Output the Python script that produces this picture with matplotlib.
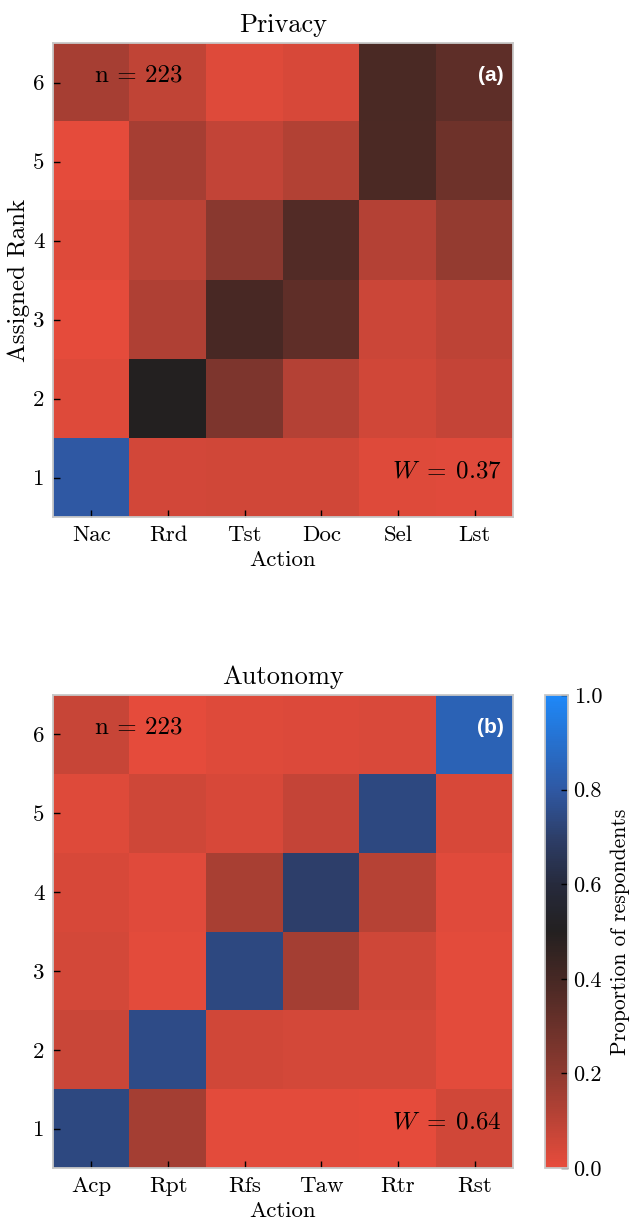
import numpy as np
import matplotlib
matplotlib.use("Agg")
import matplotlib.pyplot as plt
from matplotlib.colors import LinearSegmentedColormap

plt.rcParams['font.family'] = 'serif'
plt.rcParams['font.serif'] = ['cmr10']
plt.rcParams['mathtext.fontset'] = 'cm'
plt.rcParams['axes.unicode_minus'] = False
plt.rcParams['axes.formatter.use_mathtext'] = True

# ---- data ----
ranks = [1, 2, 3, 4, 5, 6]
privacy_actions = ["Nac", "Rrd", "Tst", "Doc", "Sel", "Lst"]
autonomy_actions = ["Acp", "Rpt", "Rfs", "Taw", "Rtr", "Rst"]

# rows: rank 1 .. rank 6 ; columns: actions
privacy_rank1 = [0.80, 0.047, 0.052, 0.052, 0.020, 0.016]
privacy_rank2 = [0.020, 0.50, 0.247, 0.115, 0.052, 0.079]
privacy_rank3 = [0.004, 0.128, 0.394, 0.331, 0.065, 0.097]
privacy_rank4 = [0.022, 0.101, 0.214, 0.367, 0.115, 0.187]
privacy_rank5 = [0.004, 0.146, 0.085, 0.119, 0.383, 0.286]
privacy_rank6 = [0.146, 0.088, 0.020, 0.036, 0.389, 0.333]

autonomy_rank1 = [0.74, 0.15, 0.011, 0.011, 0.007, 0.052]
autonomy_rank2 = [0.070, 0.75, 0.052, 0.043, 0.043, 0.011]
autonomy_rank3 = [0.043, 0.011, 0.74, 0.15, 0.056, 0.011]
autonomy_rank4 = [0.036, 0.018, 0.142, 0.70, 0.11, 0.018]
autonomy_rank5 = [0.022, 0.056, 0.038, 0.079, 0.74, 0.038]
autonomy_rank6 = [0.074, 0.004, 0.020, 0.025, 0.034, 0.84]

n_resp = 223
w_privacy = 0.37
w_autonomy = 0.64

privacy = np.array([privacy_rank1, privacy_rank2, privacy_rank3,
                    privacy_rank4, privacy_rank5, privacy_rank6])
autonomy = np.array([autonomy_rank1, autonomy_rank2, autonomy_rank3,
                     autonomy_rank4, autonomy_rank5, autonomy_rank6])

cmap = LinearSegmentedColormap.from_list(
    "rbb",
    [(0.0, "#e74c3c"), (0.2, "#8e3a30"), (0.4, "#462824"), (0.5, "#232020"),
     (0.6, "#262a3c"), (0.7, "#2d3e69"), (0.8, "#2f58a3"), (1.0, "#1e88f8")])

fig = plt.figure(figsize=(6.3, 12.22), dpi=100)
ax1 = fig.add_axes([53/630, 1-517/1222, 460/630, 474/1222])
ax2 = fig.add_axes([53/630, 1-1168/1222, 460/630, 473/1222])
cax = fig.add_axes([545/630, 1-1168/1222, 23/630, 473/1222])

spine_col = "#c8c8c8"

def draw(ax, data, actions, title, tag, w, ylabel):
    im = ax.imshow(data, cmap=cmap, vmin=0, vmax=1, origin='lower',
                   aspect='auto', interpolation='nearest',
                   extent=(-0.5, len(actions)-0.5, 0.5, len(ranks)+0.5))
    ax.set_xticks(range(len(actions)))
    ax.set_xticklabels(actions)
    ax.set_yticks(ranks)
    ax.set_yticklabels([str(r) for r in ranks])
    ax.tick_params(direction='in', length=5, width=1, labelsize=16.5, pad=6)
    for s in ax.spines.values():
        s.set_color(spine_col)
        s.set_linewidth(1.3)
    ax.set_title(title, fontsize=19, pad=8)
    ax.set_xlabel("Action", fontsize=16.5, labelpad=4)
    if ylabel:
        ax.set_ylabel("Assigned Rank", fontsize=18, labelpad=2)
    ax.text(0.187, 0.932, "n = %d" % n_resp, transform=ax.transAxes,
            ha='center', va='center', fontsize=18)
    ax.text(0.952, 0.932, tag, transform=ax.transAxes, ha='center',
            va='center', fontsize=15, color='white', fontweight='bold',
            family=['Liberation Sans', 'DejaVu Sans'])
    ax.text(0.976, 0.097, r"$W\;=\;%.2f$" % w, transform=ax.transAxes,
            ha='right', va='center', fontsize=18)
    return im

draw(ax1, privacy, privacy_actions, "Privacy", "(a)", w_privacy, True)
im = draw(ax2, autonomy, autonomy_actions, "Autonomy", "(b)", w_autonomy, False)

cb = fig.colorbar(im, cax=cax, ticks=[0, 0.2, 0.4, 0.6, 0.8, 1.0])
cb.ax.set_yticklabels(["0.0", "0.2", "0.4", "0.6", "0.8", "1.0"])
cb.ax.tick_params(direction='in', length=5, width=1, labelsize=16, pad=4)
cb.outline.set_edgecolor(spine_col)
cb.outline.set_linewidth(1.3)
cb.set_label("Proportion of respondents", fontsize=15.5, labelpad=6)

fig.savefig("out.png", dpi=100)
